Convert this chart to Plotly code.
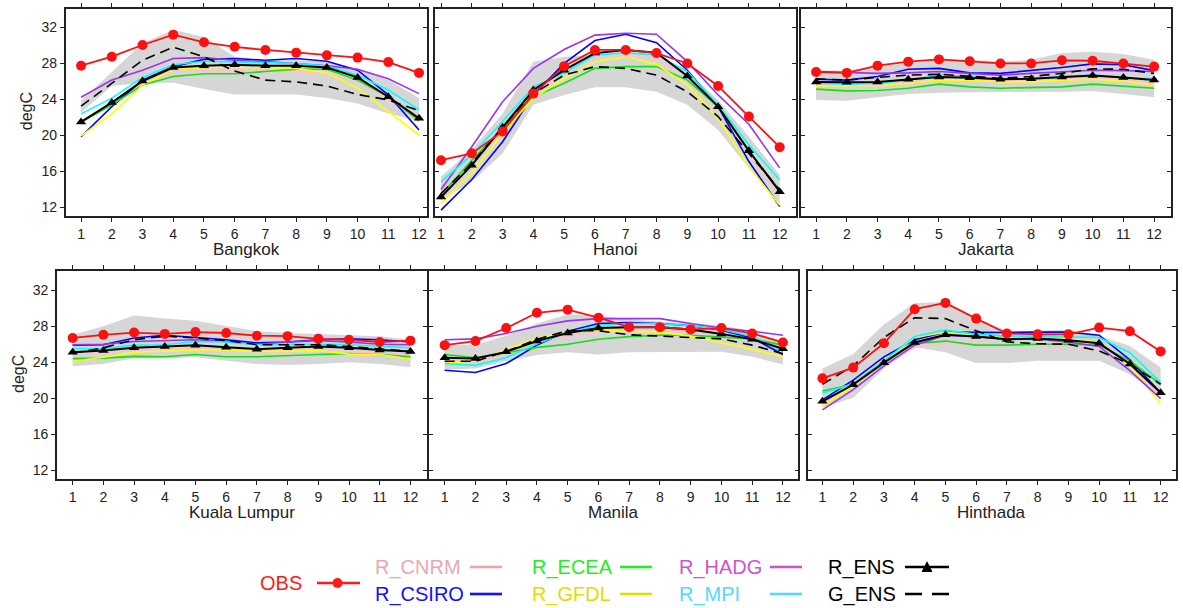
import plotly.graph_objects as go

months = list(range(1, 13))
tick_y = [12, 16, 20, 24, 28, 32]
series_names = ["R_CNRM", "R_CSIRO", "R_ECEA", "R_GFDL", "R_HADG", "R_MPI"]
line_colors = ["#ffc0cb", "#0000ff", "#11e011", "#ffff00", "#9a32f0", "#00ffff"]
legend_text_colors = ["#e8a8b0", "#1010ff", "#22ee22", "#e0dd00", "#cc55cc", "#55d8ff"]
city_names = ["Bangkok", "Hanoi", "Jakarta", "Kuala Lumpur", "Manila", "Hinthada"]

# ---------------- Bangkok ----------------
bkk_obs = [27.7, 28.7, 30.0, 31.15, 30.3, 29.8, 29.45, 29.15, 28.85, 28.6, 28.1, 26.9]
bkk_rens = [21.45, 23.6, 26.0, 27.5, 27.7, 27.8, 27.7, 27.7, 27.5, 26.4, 24.25, 21.85]
bkk_gens = [23.2, 25.8, 28.3, 29.75, 28.7, 27.1, 26.1, 25.9, 25.45, 24.5, 23.9, 22.7]
bkk_cnrm = [21.5, 23.5, 25.8, 27.0, 27.2, 27.2, 27.1, 27.0, 26.8, 26.0, 24.0, 21.5]
bkk_csiro = [19.8, 23.15, 26.1, 27.6, 28.4, 28.5, 28.3, 28.5, 28.2, 27.2, 24.45, 20.55]
bkk_ecea = [21.4, 23.35, 25.55, 26.5, 26.8, 26.8, 27.05, 27.3, 27.3, 26.1, 24.25, 21.6]
bkk_gfdl = [19.9, 22.35, 25.55, 27.3, 27.5, 27.5, 27.5, 27.4, 26.9, 25.2, 22.6, 20.0]
bkk_hadg = [24.2, 26.1, 27.2, 28.5, 28.6, 28.3, 28.15, 27.9, 27.7, 27.3, 26.25, 24.6]
bkk_mpi = [22.35, 24.1, 26.4, 27.8, 28.2, 28.15, 28.05, 27.95, 27.65, 26.65, 25.0, 22.8]
bkk_upper = [23.8, 27.0, 30.2, 31.7, 30.9, 28.7, 28.3, 28.3, 28.15, 27.4, 26.1, 24.1]
bkk_lower = [22.5, 25.45, 25.8, 25.8, 25.1, 24.5, 24.5, 24.5, 24.1, 23.5, 22.4, 21.5]

# ---------------- Hanoi ----------------
han_obs = [17.2, 17.96, 20.4, 24.6, 27.65, 29.45, 29.45, 29.1, 27.95, 25.45, 22.05, 18.65]
han_rens = [13.1, 16.65, 20.85, 25.0, 27.2, 29.1, 29.45, 29.15, 26.55, 23.15, 18.25, 13.7]
han_gens = [13.5, 16.85, 20.9, 24.6, 26.65, 27.6, 27.4, 26.65, 24.8, 22.05, 17.95, 13.9]
han_cnrm = [12.8, 16.7, 20.4, 24.6, 27.0, 28.7, 29.1, 28.5, 26.5, 22.8, 17.95, 13.5]
han_csiro = [11.65, 15.05, 19.25, 24.45, 27.95, 30.5, 31.2, 30.25, 27.2, 23.15, 17.05, 12.05]
han_ecea = [13.35, 17.2, 20.75, 24.25, 25.75, 27.4, 27.6, 27.6, 26.1, 23.15, 18.15, 13.9]
han_gfdl = [12.4, 15.75, 20.2, 24.1, 26.3, 28.15, 28.7, 27.85, 25.55, 21.85, 16.5, 12.2]
han_hadg = [13.95, 18.7, 23.7, 27.4, 29.5, 31.1, 31.3, 31.2, 28.15, 24.45, 21.2, 16.35]
han_mpi = [14.8, 17.8, 21.5, 25.35, 26.85, 28.9, 29.15, 28.9, 27.05, 23.35, 18.9, 15.0]
han_upper = [15.4, 18.35, 22.4, 28.15, 28.7, 28.9, 29.1, 28.9, 27.05, 23.9, 19.8, 15.55]
han_lower = [12.8, 14.8, 17.95, 23.35, 24.45, 25.3, 25.3, 24.8, 23.35, 20.55, 16.3, 12.4]

# ---------------- Jakarta ----------------
jak_obs = [27.0, 26.9, 27.7, 28.15, 28.4, 28.2, 27.95, 27.95, 28.3, 28.25, 27.95, 27.6]
jak_rens = [25.9, 25.85, 25.9, 26.2, 26.45, 26.35, 26.2, 26.25, 26.45, 26.6, 26.4, 26.1]
jak_gens = [26.25, 26.1, 26.4, 26.65, 26.75, 26.55, 26.3, 26.5, 26.85, 27.35, 27.3, 26.85]
jak_cnrm = [25.6, 25.55, 25.6, 25.9, 26.3, 26.2, 26.0, 26.05, 26.2, 26.35, 26.1, 25.8]
jak_csiro = [26.2, 26.1, 26.5, 27.3, 27.4, 26.9, 26.85, 27.15, 27.5, 27.9, 27.8, 27.15]
jak_ecea = [25.1, 24.9, 24.95, 25.2, 25.65, 25.35, 25.2, 25.25, 25.35, 25.65, 25.45, 25.2]
jak_gfdl = [25.45, 25.45, 25.5, 25.75, 26.1, 26.1, 25.9, 25.9, 26.1, 26.2, 26.0, 25.55]
jak_hadg = [27.05, 26.95, 26.85, 26.9, 27.05, 26.85, 26.65, 26.85, 27.05, 27.2, 27.15, 27.05]
jak_mpi = [25.75, 25.65, 25.75, 26.1, 26.65, 26.5, 26.2, 26.25, 26.5, 26.65, 26.4, 26.2]
jak_upper = [27.2, 27.15, 27.6, 27.95, 28.35, 28.35, 28.15, 28.35, 29.1, 29.25, 29.0, 28.35]
jak_lower = [23.9, 23.8, 24.2, 24.55, 24.7, 24.75, 24.8, 24.8, 24.8, 24.9, 24.55, 24.2]

# ---------------- Kuala Lumpur ----------------
kul_obs = [26.7, 27.05, 27.3, 27.15, 27.35, 27.25, 26.95, 26.9, 26.6, 26.5, 26.25, 26.4]
kul_rens = [25.1, 25.3, 25.6, 25.75, 25.9, 25.65, 25.45, 25.6, 25.75, 25.6, 25.35, 25.2]
kul_gens = [25.0, 25.6, 26.5, 26.9, 26.7, 26.4, 25.95, 25.95, 25.95, 25.75, 25.5, 25.2]
kul_cnrm = [25.0, 25.1, 25.3, 25.4, 25.5, 25.35, 25.15, 25.2, 25.3, 25.2, 25.0, 24.9]
kul_csiro = [25.9, 25.95, 26.7, 27.0, 26.75, 26.5, 26.15, 26.25, 26.5, 26.6, 26.5, 26.25]
kul_ecea = [24.4, 24.45, 24.65, 24.6, 24.85, 24.6, 24.6, 24.75, 24.85, 24.95, 24.85, 24.6]
kul_gfdl = [24.1, 24.55, 25.1, 25.2, 25.35, 25.35, 25.2, 25.2, 25.3, 24.9, 24.85, 24.35]
kul_hadg = [25.95, 26.0, 26.3, 26.4, 26.5, 26.3, 26.0, 26.25, 26.4, 26.25, 26.0, 25.95]
kul_mpi = [25.5, 25.5, 25.9, 25.95, 26.3, 26.25, 25.95, 26.0, 26.0, 25.95, 25.75, 25.6]
kul_upper = [27.05, 28.0, 29.2, 28.85, 28.6, 28.0, 27.45, 27.25, 27.15, 27.05, 26.9, 26.5]
kul_lower = [23.55, 23.8, 24.45, 24.45, 24.55, 24.15, 23.8, 23.7, 23.8, 24.0, 23.8, 23.45]

# ---------------- Manila ----------------
mnl_obs = [25.9, 26.35, 27.8, 29.5, 29.85, 28.95, 27.9, 27.9, 27.65, 27.8, 27.2, 26.2]
mnl_rens = [24.5, 24.4, 25.15, 26.35, 27.25, 27.8, 27.9, 27.9, 27.65, 27.15, 26.55, 25.5]
mnl_gens = [24.1, 24.1, 25.2, 26.55, 27.5, 27.5, 27.05, 26.9, 26.8, 26.6, 25.9, 24.95]
mnl_cnrm = [24.2, 24.1, 24.95, 26.05, 26.9, 27.45, 27.65, 27.65, 27.45, 27.0, 26.35, 25.35]
mnl_csiro = [23.1, 22.85, 23.85, 25.9, 27.45, 28.3, 28.4, 28.3, 28.05, 27.55, 26.7, 24.85]
mnl_ecea = [24.85, 24.5, 25.05, 25.65, 26.0, 26.55, 26.85, 27.0, 27.0, 26.8, 26.6, 25.9]
mnl_gfdl = [23.95, 24.1, 25.45, 26.65, 27.35, 27.55, 27.45, 27.35, 26.9, 26.2, 25.45, 24.6]
mnl_hadg = [26.5, 26.6, 27.2, 28.0, 28.6, 28.85, 28.85, 28.85, 28.3, 27.8, 27.45, 27.0]
mnl_mpi = [23.85, 23.65, 24.5, 26.05, 27.3, 28.1, 28.3, 28.3, 28.05, 27.65, 26.9, 25.15]
mnl_upper = [25.9, 25.95, 26.95, 28.3, 29.3, 29.2, 28.8, 28.5, 28.3, 28.1, 27.45, 26.2]
mnl_lower = [23.2, 23.3, 24.1, 24.8, 25.1, 24.85, 25.1, 25.15, 25.15, 25.15, 24.6, 23.75]

# ---------------- Hinthada ----------------
hin_obs = [22.2, 23.4, 26.1, 29.9, 30.6, 28.85, 27.2, 27.1, 27.1, 27.85, 27.45, 25.2]
hin_rens = [19.65, 21.5, 23.95, 26.2, 27.05, 26.85, 26.55, 26.65, 26.45, 26.1, 23.8, 20.6]
hin_gens = [21.55, 23.6, 26.75, 28.95, 28.85, 27.5, 26.25, 26.05, 26.0, 25.25, 23.8, 21.55]
hin_cnrm = [19.5, 21.55, 23.9, 25.65, 26.1, 26.1, 26.0, 25.9, 25.65, 25.4, 23.6, 20.55]
hin_csiro = [19.8, 22.0, 24.6, 26.5, 27.35, 27.3, 27.3, 27.35, 27.35, 27.0, 24.25, 20.6]
hin_ecea = [20.8, 21.55, 24.05, 26.1, 26.35, 25.9, 25.9, 26.0, 26.0, 25.9, 24.15, 21.55]
hin_gfdl = [19.15, 21.35, 24.05, 26.75, 27.35, 27.0, 26.75, 26.75, 26.55, 26.25, 23.6, 19.35]
hin_hadg = [18.7, 20.95, 23.6, 25.9, 27.0, 26.85, 26.55, 26.55, 26.25, 25.75, 23.05, 19.95]
hin_mpi = [20.55, 21.6, 24.15, 26.85, 27.6, 27.1, 26.9, 26.9, 26.8, 26.75, 25.05, 21.75]
hin_upper = [23.3, 24.9, 28.2, 30.6, 30.7, 28.95, 27.5, 27.5, 27.65, 26.95, 25.8, 23.4]
hin_lower = [18.95, 20.05, 23.3, 25.65, 25.1, 23.9, 23.9, 24.15, 24.15, 24.15, 22.65, 20.25]

cities = [
    (bkk_obs, bkk_rens, bkk_gens, [bkk_cnrm, bkk_csiro, bkk_ecea, bkk_gfdl, bkk_hadg, bkk_mpi], bkk_upper, bkk_lower),
    (han_obs, han_rens, han_gens, [han_cnrm, han_csiro, han_ecea, han_gfdl, han_hadg, han_mpi], han_upper, han_lower),
    (jak_obs, jak_rens, jak_gens, [jak_cnrm, jak_csiro, jak_ecea, jak_gfdl, jak_hadg, jak_mpi], jak_upper, jak_lower),
    (kul_obs, kul_rens, kul_gens, [kul_cnrm, kul_csiro, kul_ecea, kul_gfdl, kul_hadg, kul_mpi], kul_upper, kul_lower),
    (mnl_obs, mnl_rens, mnl_gens, [mnl_cnrm, mnl_csiro, mnl_ecea, mnl_gfdl, mnl_hadg, mnl_mpi], mnl_upper, mnl_lower),
    (hin_obs, hin_rens, hin_gens, [hin_cnrm, hin_csiro, hin_ecea, hin_gfdl, hin_hadg, hin_mpi], hin_upper, hin_lower),
]

W, H = 1183, 608
FONT = "Liberation Sans, Arial, Helvetica, sans-serif"
INK = "#222222"


def px(x):
    return x / W


def py(y):
    return 1 - y / H


# panel boxes in pixels: (left, right, top, bottom), and x ranges
boxes = [
    (65.7, 426.7, 9, 216), (435, 795.7, 9, 216), (801, 1170.7, 9, 216),
    (57, 426.7, 271, 479), (429.3, 798.3, 271, 479), (807.7, 1176, 271, 479),
]
xranges = [[0.5, 12.25], [0.805, 12.52], [0.51, 12.54], [0.49, 12.53], [0.5, 12.5], [0.52, 12.5]]
yranges = [[11, 34], [11, 34], [11, 34], [11, 34.15], [11, 34.15], [11, 34.15]]

fig = go.Figure()
layout = {}
annotations = []
shapes = []

for i, (obs, rens, gens, models, upper, lower) in enumerate(cities):
    k = i + 1
    xa = "x" if k == 1 else f"x{k}"
    ya = "y" if k == 1 else f"y{k}"
    # spread band
    fig.add_trace(go.Scatter(
        x=months + months[::-1], y=upper + lower[::-1], xaxis=xa, yaxis=ya,
        fill="toself", fillcolor="#d6d6d6", line=dict(width=0), mode="lines",
        hoverinfo="skip", showlegend=False))
    for name, col, vals in zip(series_names, line_colors, models):
        fig.add_trace(go.Scatter(x=months, y=vals, xaxis=xa, yaxis=ya, mode="lines",
                                 line=dict(color=col, width=1.6), name=name, showlegend=False))
    fig.add_trace(go.Scatter(x=months, y=gens, xaxis=xa, yaxis=ya, mode="lines",
                             line=dict(color="black", width=1.6, dash="10px,6px"),
                             name="G_ENS", showlegend=False))
    fig.add_trace(go.Scatter(x=months, y=rens, xaxis=xa, yaxis=ya, mode="lines+markers",
                             line=dict(color="black", width=2),
                             marker=dict(symbol="triangle-up", size=9, color="black"),
                             name="R_ENS", showlegend=False))
    fig.add_trace(go.Scatter(x=months, y=obs, xaxis=xa, yaxis=ya, mode="lines+markers",
                             line=dict(color="#ff1010", width=1.8),
                             marker=dict(symbol="circle", size=10, color="#ff1010"),
                             name="OBS", showlegend=False))

    l, r, t, b = boxes[i]
    left_col = k in (1, 4)
    key_x = "xaxis" if k == 1 else f"xaxis{k}"
    key_y = "yaxis" if k == 1 else f"yaxis{k}"
    layout[key_x] = dict(
        domain=[px(l), px(r)], range=xranges[i], anchor=ya, tickvals=months,
        ticks="outside", ticklen=4, tickwidth=1.2, tickcolor=INK, mirror="ticks",
        showline=True, linecolor=INK, linewidth=1.6, showgrid=False, zeroline=False,
        tickfont=dict(family=FONT, size=14, color=INK),
    )
    layout[key_y] = dict(
        domain=[py(b), py(t)], range=yranges[i], anchor=xa, tickvals=tick_y,
        ticks="outside" if left_col else "inside", ticklen=4, tickwidth=1.2, tickcolor=INK,
        mirror=True if left_col else "ticks",
        showline=True, linecolor=INK, linewidth=1.6, showgrid=False, zeroline=False,
        showticklabels=left_col, tickfont=dict(family=FONT, size=14, color=INK),
    )
    # city name under the panel
    annotations.append(dict(
        x=px((l + r) / 2), y=py(b + 33.5), xref="paper", yref="paper", text=city_names[i],
        showarrow=False, font=dict(family=FONT, size=17, color=INK), xanchor="center", yanchor="middle"))
    if left_col:
        annotations.append(dict(
            x=px(l - 39), y=py((t + b) / 2 - 1), xref="paper", yref="paper", text="degC", textangle=-90,
            showarrow=False, font=dict(family=FONT, size=16, color=INK), xanchor="center", yanchor="middle"))

# inward tick marks on the right side of the left-column panels
for extra, base in ((7, 1), (8, 4)):
    xa = "x" if base == 1 else f"x{base}"
    ya = "y" if base == 1 else f"y{base}"
    layout[f"yaxis{extra}"] = dict(
        overlaying=ya, anchor=xa, side="right", range=yranges[base - 1], tickvals=tick_y,
        ticks="inside", ticklen=4, tickwidth=1.2, tickcolor=INK, showline=False,
        showgrid=False, zeroline=False, showticklabels=False)
    fig.add_trace(go.Scatter(x=[None], y=[None], xaxis=xa, yaxis=f"y{extra}", showlegend=False,
                             hoverinfo="skip"))

# ---------------- hand-built legend ----------------
LEG = 20


def leg_text(txt, x, y, color, anchor="left"):
    annotations.append(dict(x=px(x), y=py(y), xref="paper", yref="paper", text=txt, showarrow=False,
                            xanchor=anchor, yanchor="middle",
                            font=dict(family=FONT, size=LEG, color=color)))


def leg_line(x0, x1, y, color, dash="solid"):
    shapes.append(dict(type="line", xref="paper", yref="paper", x0=px(x0), x1=px(x1), y0=py(y), y1=py(y),
                       line=dict(color=color, width=2.6, dash=dash)))


row1, row2, mid = 567, 594, 583
leg_text("OBS", 304, mid, "#ff1a1a", anchor="right")
leg_line(317, 360, mid, "#ff1a1a")
shapes.append(dict(type="circle", xref="paper", yref="paper", x0=px(332.5), x1=px(342.5),
                   y0=py(mid + 5), y1=py(mid - 5), fillcolor="#ff1a1a", line=dict(width=0)))

cols_x = [(373, 470, 502), (530, 620, 652), (677, 770, 802)]
for j, (tx, lx0, lx1) in enumerate(cols_x):
    for rr, yy in ((0, row1), (1, row2)):
        idx = j * 2 + rr
        leg_text(series_names[idx], tx, yy, legend_text_colors[idx])
        leg_line(lx0, lx1, yy, legend_text_colors[idx])

leg_text("R_ENS", 826, row1, "black")
leg_line(905, 949, row1, "black")
shapes.append(dict(type="path", xref="paper", yref="paper",
                   path=f"M {px(921.5)} {py(572)} L {px(932.5)} {py(572)} L {px(927)} {py(561)} Z",
                   fillcolor="black", line=dict(width=0)))
leg_text("G_ENS", 826, row2, "black")
leg_line(905, 949, row2, "black", dash="17px,10px")

fig.update_layout(
    width=W, height=H, margin=dict(l=0, r=0, t=0, b=0),
    paper_bgcolor="white", plot_bgcolor="white", showlegend=False,
    annotations=annotations, shapes=shapes, font=dict(family=FONT, color=INK),
    **layout,
)

fig.write_html("out.html")
